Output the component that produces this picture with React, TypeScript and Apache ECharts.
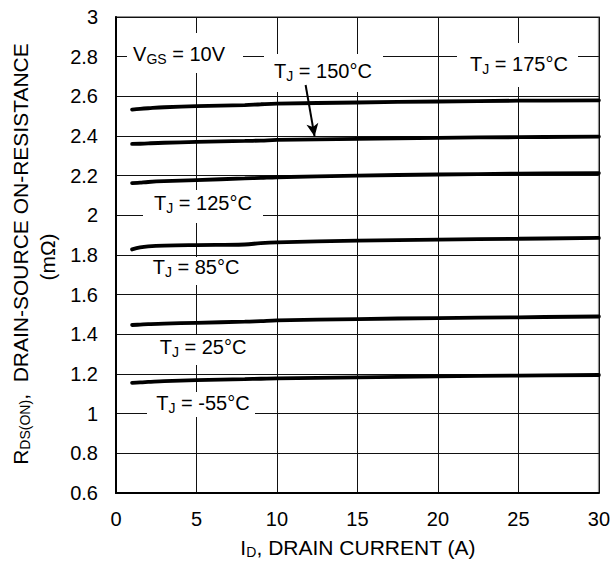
import React, { useEffect, useRef } from "react";
import * as echarts from "echarts";

// Drain current (A)
const currents = [1, 1.5, 2, 3, 5, 8, 9, 10, 15, 20, 25, 30];
// R_DS(ON) (mΩ) per junction temperature
const r175 = [2.533, 2.537, 2.54, 2.545, 2.551, 2.556, 2.56, 2.563, 2.569, 2.574, 2.578, 2.58];
const r150 = [2.36, 2.361, 2.363, 2.366, 2.37, 2.375, 2.377, 2.38, 2.386, 2.391, 2.394, 2.397];
const r125 = [2.162, 2.165, 2.168, 2.172, 2.178, 2.186, 2.189, 2.192, 2.2, 2.206, 2.21, 2.213];
const r85 = [1.828, 1.838, 1.843, 1.847, 1.85, 1.853, 1.86, 1.864, 1.872, 1.878, 1.882, 1.886];
const r25 = [1.447, 1.449, 1.451, 1.454, 1.458, 1.464, 1.467, 1.47, 1.477, 1.482, 1.486, 1.49];
const rm55 = [1.155, 1.158, 1.16, 1.164, 1.169, 1.174, 1.176, 1.178, 1.183, 1.188, 1.192, 1.195];

const seriesNames = ["TJ = 175°C", "TJ = 150°C", "TJ = 125°C", "TJ = 85°C", "TJ = 25°C", "TJ = -55°C"];
const seriesValues = [r175, r150, r125, r85, r25, rm55];

// Arrow annotation pointing at the 150°C curve (data coordinates)
const arrowFrom = [11.78, 2.657];
const arrowTo = [12.34, 2.397];

const FONT = "'Liberation Sans', Arial, Helvetica, sans-serif";
const FS = 20;
const TITLE_FS = 21;

const rich = {
  n: { fontSize: FS, fontFamily: FONT, color: "#000" },
  s: { fontSize: 14, fontFamily: FONT, color: "#000", padding: [10, 0, 0, 0] },
};
const titleRich = {
  n: { fontSize: TITLE_FS, fontFamily: FONT, color: "#000" },
  s: { fontSize: 14, fontFamily: FONT, color: "#000", padding: [10, 0, 0, 0] },
};

// Label annotations: text, centre, and white box
const annotations = [
  { text: "{n|V}{s|GS}{n| = 10V}", cx: 179, cy: 54, box: [127, 33, 116, 40] },
  { text: "{n|T}{s|J}{n| = 150°C}", cx: 323, cy: 71, box: [264, 54, 119, 38] },
  { text: "{n|T}{s|J}{n| = 175°C}", cx: 519, cy: 64, box: [457, 43, 121, 44] },
  { text: "{n|T}{s|J}{n| = 125°C}", cx: 203, cy: 203, box: [143, 190, 120, 33] },
  { text: "{n|T}{s|J}{n| = 85°C}", cx: 196, cy: 267, box: [145, 257, 102, 28] },
  { text: "{n|T}{s|J}{n| = 25°C}", cx: 203, cy: 347, box: [150, 335, 107, 30] },
  { text: "{n|T}{s|J}{n| = -55°C}", cx: 203, cy: 403, box: [147, 392, 108, 25] },
];

export default function App() {
  const ref = useRef<HTMLDivElement>(null);
  useEffect(() => {
    if (!ref.current) return;
    const chart = echarts.init(ref.current, undefined, { renderer: "svg" });
    const graphics: any[] = [];
    annotations.forEach((a) => {
      graphics.push({
        type: "rect",
        z: 1,
        shape: { x: a.box[0], y: a.box[1], width: a.box[2], height: a.box[3] },
        style: { fill: "#fff" },
        silent: true,
      });
      graphics.push({
        type: "text",
        z: 10,
        x: a.cx,
        y: a.cy,
        style: { text: a.text, rich, align: "center", verticalAlign: "middle" },
        silent: true,
      });
    });
    graphics.push({
      type: "text",
      z: 10,
      x: 20,
      y: 254,
      rotation: Math.PI / 2,
      style: {
        text: "{n|R}{s|DS(ON)}{n|,  DRAIN-SOURCE ON-RESISTANCE}",
        rich: titleRich,
        align: "center",
        verticalAlign: "middle",
      },
    });
    graphics.push({
      type: "text",
      z: 10,
      x: 47,
      y: 257,
      rotation: Math.PI / 2,
      style: { text: "{n|(mΩ)}", rich: titleRich, align: "center", verticalAlign: "middle" },
    });
    graphics.push({
      type: "text",
      z: 10,
      x: 358,
      y: 547,
      style: {
        text: "{n|I}{s|D}{n|, DRAIN CURRENT (A)}",
        rich: titleRich,
        align: "center",
        verticalAlign: "middle",
      },
    });

    const series: any[] = seriesValues.map((vals, i) => ({
      name: seriesNames[i],
      type: "line",
      z: 3,
      data: currents.map((c, j) => [c, vals[j]]),
      showSymbol: false,
      smooth: 0.4,
      lineStyle: { color: "#000", width: 3.8, cap: "round" },
      silent: true,
    }));
    series[1].markLine = {
      silent: true,
      symbol: ["none", "arrow"],
      symbolSize: [9, 13],
      label: { show: false },
      lineStyle: { color: "#000", width: 2, type: "solid" },
      data: [[{ coord: arrowFrom }, { coord: arrowTo }]],
    };

    chart.setOption({
      animation: false,
      backgroundColor: "#fff",
      grid: {
        left: 116,
        top: 17,
        right: 13,
        bottom: 68,
        show: true,
        borderColor: "#8f8f8f",
        borderWidth: 2,
      },
      xAxis: {
        type: "value",
        min: 0,
        max: 30,
        interval: 5,
        axisLine: { show: true, onZero: false, lineStyle: { color: "#000", width: 2 } },
        axisTick: { show: false },
        splitLine: { show: true, lineStyle: { color: "#111", width: 1 } },
        axisLabel: { color: "#000", fontSize: FS, fontFamily: FONT, margin: 16 },
      },
      yAxis: {
        type: "value",
        min: 0.6,
        max: 3,
        interval: 0.2,
        axisLine: { show: true, lineStyle: { color: "#000", width: 2 } },
        axisTick: { show: false },
        splitLine: { show: true, lineStyle: { color: "#111", width: 1 } },
        axisLabel: {
          color: "#000",
          fontSize: FS,
          fontFamily: FONT,
          margin: 18,
          formatter: (v: number) => String(Math.round(v * 10) / 10),
        },
      },
      graphic: graphics,
      series,
    });
    return () => chart.dispose();
  }, []);
  return (
    <div
      ref={ref}
      style={{ position: "fixed", left: 0, top: 0, width: 613, height: 561, background: "#fff" }}
    />
  );
}
